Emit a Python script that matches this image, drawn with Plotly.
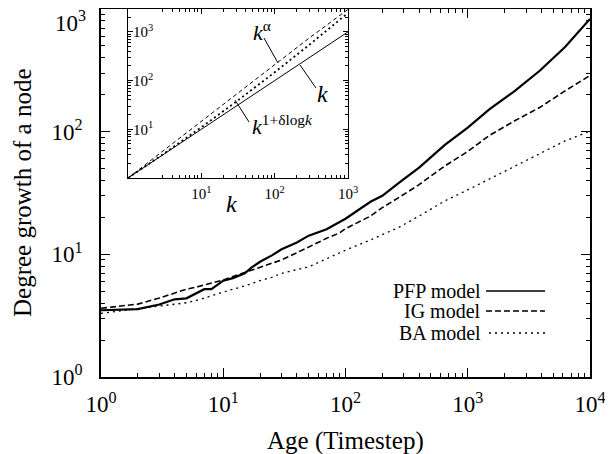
import plotly.graph_objects as go

# ---------------- data ----------------
age = [1, 2, 3, 4, 5, 6, 7, 8, 9, 10, 12, 15, 17, 20, 25, 30, 40, 50, 70, 90,
       100, 160, 200, 280, 400, 650, 1000, 1500, 2400, 3900, 6250, 10000]
pfp = [3.5, 3.58, 3.9, 4.3, 4.38, 4.8, 5.2, 5.2, 5.7, 6.1, 6.4, 7.0, 7.8, 8.7, 9.8, 11.0, 12.5, 14.2, 16.0, 18.4,
       19.5, 26.8, 30.0, 39.0, 51.0, 78.0, 108.0, 152.0, 213.0, 315.0, 490.0, 830.0]
ig = [3.63, 3.93, 4.4, 4.8, 5.2, 5.4, 5.6, 5.8, 6.0, 6.17, 6.6, 7.1, 7.4, 7.83, 8.4, 9.0, 10.3, 11.5, 13.5, 15.0,
      16.2, 20.5, 24.0, 29.5, 37.0, 52.5, 69.0, 93.0, 122.0, 158.0, 215.0, 287.0]
ba = [3.3, 3.6, 3.75, 3.94, 4.03, 4.2, 4.4, 4.6, 4.8, 4.96, 5.2, 5.52, 5.8, 6.1, 6.5, 7.0, 7.5, 7.9, 9.2, 10.3,
      10.8, 13.1, 14.4, 16.8, 20.5, 27.3, 33.5, 41.0, 52.0, 67.0, 84.0, 101.0]

inset_k = [1, 3, 10, 30, 100, 300, 1000]
inset_linear = [1, 3, 10, 30, 100, 300, 1000]
inset_alpha = [1, 3.6, 14.5, 51, 210, 760, 2900]
inset_delta = [1, 3.07, 11, 37, 148, 550, 2450]

main_ticks = [1, 10, 100, 1000, 10000]
main_ticktext = ["10<sup>0</sup>", "10<sup>1</sup>", "10<sup>2</sup>", "10<sup>3</sup>", "10<sup>4</sup>"]
main_yticks = [1, 10, 100, 1000]
main_yticktext = ["10<sup>0</sup>", "10<sup>1</sup>", "10<sup>2</sup>", ""]   # top label placed below as text
top_ylabel = "10<sup>3</sup>"
inset_xticks = [1, 10, 100, 1000]
inset_xticktext = ["10<sup>0</sup>", "10<sup>1</sup>", "10<sup>2</sup>", "10<sup>3</sup>"]
inset_yticks = [10, 100, 1000]
inset_yticktext = ["10<sup>1</sup>", "10<sup>2</sup>", "10<sup>3</sup>"]

legend_names = ["PFP model", "IG model", "BA model"]

# ---------------- geometry helpers (reference page pixels) ----------------
OFF = 8                      # default body margin of the page
PAGE_W, PAGE_H = 613, 454
W, H = PAGE_W - OFF, PAGE_H - OFF
PL, PR, PT, PB = 101, 590, 9, 377   # plot area in page pixels
PW, PH = PR - PL, PB - PT


def X(px):
    return (px - PL) / PW


def Y(py):
    return (PB - py) / PH


FONT = "Liberation Serif"


def minor_vals(decades):
    return [m * 10 ** d for d in range(decades) for m in range(2, 10)]


fig = go.Figure()

styles = [dict(color="black", width=2.2),
          dict(color="black", width=1.6, dash="6px,3px"),
          dict(color="black", width=1.3, dash="2px,4px")]
for name, ys, st in zip(legend_names, [pfp, ig, ba], styles):
    fig.add_trace(go.Scatter(x=age, y=ys, mode="lines", name=name, line=st,
                             showlegend=False, xaxis="x", yaxis="y"))

# inset
fig.add_trace(go.Scatter(x=inset_k, y=inset_linear, mode="lines", line=dict(color="black", width=1),
                         showlegend=False, xaxis="x2", yaxis="y2"))
fig.add_trace(go.Scatter(x=inset_k, y=inset_alpha, mode="lines", line=dict(color="black", width=1, dash="4px,3px"),
                         showlegend=False, xaxis="x2", yaxis="y2"))
fig.add_trace(go.Scatter(x=inset_k, y=inset_delta, mode="lines", line=dict(color="black", width=1.8, dash="2px,3px"),
                         showlegend=False, xaxis="x2", yaxis="y2"))

common = dict(showgrid=False, zeroline=False, showline=True, linecolor="black",
              ticks="inside", mirror="allticks", tickcolor="black")

fig.update_layout(
    width=W, height=H,
    margin=dict(l=PL - OFF, r=W - (PR - OFF), t=PT - OFF, b=H - (PB - OFF), autoexpand=False),
    paper_bgcolor="white", plot_bgcolor="white",
    font=dict(family=FONT, color="black"),
    xaxis=dict(type="log", range=[0, 4], domain=[0, 1], anchor="y",
               tickmode="array", tickvals=main_ticks, ticktext=main_ticktext,
               ticklen=9, tickwidth=1.3, linewidth=1.6, ticklabeloverflow="allow",
               tickfont=dict(family=FONT, size=23, color="black"), ticklabelstandoff=6,
               minor=dict(tickmode="array", tickvals=minor_vals(4), ticks="inside", ticklen=4,
                          tickwidth=1, tickcolor="black", showgrid=False),
               **common),
    yaxis=dict(type="log", range=[0, 3], domain=[0, 1], anchor="x",
               tickmode="array", tickvals=main_yticks, ticktext=main_yticktext,
               ticklen=9, tickwidth=1.3, linewidth=1.6, ticklabeloverflow="allow",
               tickfont=dict(family=FONT, size=23, color="black"), ticklabelstandoff=12,
               minor=dict(tickmode="array", tickvals=minor_vals(3), ticks="inside", ticklen=4,
                          tickwidth=1, tickcolor="black", showgrid=False),
               **common),
    xaxis2=dict(type="log", range=[0, 3], domain=[X(128), X(348)], anchor="y2",
                tickmode="array", tickvals=inset_xticks, ticktext=inset_xticktext,
                ticklen=5, tickwidth=1, linewidth=1.2, ticklabeloverflow="allow",
                tickfont=dict(family=FONT, size=15, color="black"), ticklabelstandoff=2,
                minor=dict(tickmode="array", tickvals=minor_vals(3), ticks="inside", ticklen=3,
                           tickwidth=0.8, tickcolor="black", showgrid=False),
                **common),
    yaxis2=dict(type="log", range=[0, 3.47], domain=[Y(178), Y(9)], anchor="x2",
                tickmode="array", tickvals=inset_yticks, ticktext=inset_yticktext,
                ticklen=5, tickwidth=1, linewidth=1.2, ticklabelposition="inside",
                tickfont=dict(family=FONT, size=15, color="black"),
                minor=dict(tickmode="array", tickvals=minor_vals(4), ticks="inside", ticklen=3,
                           tickwidth=0.8, tickcolor="black", showgrid=False),
                **common),
)

ann = []
# top y tick label (kept inside the page)
ann.append(dict(text=top_ylabel, x=X(88), y=Y(22), xanchor="right", font=dict(size=23)))
# axis titles
ann.append(dict(text="Degree growth of a node", x=X(22), y=Y(193), textangle=-90,
                font=dict(size=25)))
ann.append(dict(text="Age (Timestep)", x=X(345.5), y=Y(441), font=dict(size=25)))
# inset labels
ann.append(dict(text="<i>k</i>", x=X(231), y=Y(204), font=dict(size=24)))
ann.append(dict(text="<i>k</i><sup>α</sup>", x=X(262), y=Y(31), font=dict(size=22)))
ann.append(dict(text="<i>k</i>", x=X(322), y=Y(94), font=dict(size=24)))
ann.append(dict(text="<i>k</i><sup>1+δlog<i>k</i></sup>", x=X(282), y=Y(125), font=dict(size=22)))
# legend text
for name, py in zip(legend_names, [291, 311, 333]):
    ann.append(dict(text=name, x=X(483), y=Y(py), xanchor="right", font=dict(size=20)))

for a in ann:
    a.setdefault("xanchor", "center")
    a.update(xref="paper", yref="paper", yanchor="middle", showarrow=False)
    a["font"].update(family=FONT, color="black")
fig.update_layout(annotations=ann)

shapes = []
# leader lines in inset
for (x0, y0, x1, y1) in [(264, 38, 278, 63), (300, 65, 316, 88), (235, 100, 249, 122)]:
    shapes.append(dict(type="line", xref="paper", yref="paper", x0=X(x0), y0=Y(y0), x1=X(x1), y1=Y(y1),
                       line=dict(color="black", width=1)))
# legend samples
for st, py, x0 in zip(styles, [291, 311, 333], [486, 486, 489]):
    s = dict(st)
    s["width"] = min(s["width"], 1.6)
    shapes.append(dict(type="line", xref="paper", yref="paper", x0=X(x0), x1=X(545), y0=Y(py), y1=Y(py),
                       line=s))
fig.update_layout(shapes=shapes)

fig.write_html("out.html")
